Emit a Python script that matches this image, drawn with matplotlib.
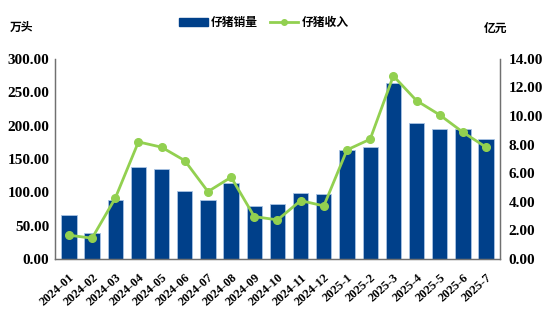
import matplotlib
matplotlib.use("Agg")
import matplotlib.pyplot as plt
from matplotlib.lines import Line2D
from matplotlib.patches import Patch

months = ["2024-01", "2024-02", "2024-03", "2024-04", "2024-05", "2024-06",
          "2024-07", "2024-08", "2024-09", "2024-10", "2024-11", "2024-12",
          "2025-1", "2025-2", "2025-3", "2025-4", "2025-5", "2025-6", "2025-7"]
piglet_sales = [66, 39.5, 88.5, 138.5, 135, 101.5, 88, 113.5, 79.5, 82,
                98.5, 97, 163.5, 167.5, 263.5, 203.5, 195.5, 195, 179.5]
piglet_revenue = [1.66, 1.45, 4.25, 8.19, 7.82, 6.88, 4.71, 5.72, 2.96, 2.73,
                  4.08, 3.71, 7.63, 8.38, 12.81, 11.08, 10.08, 8.87, 7.82]
left_ticks = [0, 50, 100, 150, 200, 250, 300]
right_ticks = [0, 2, 4, 6, 8, 10, 12, 14]

bar_color = "#00408A"
line_color = "#92D050"
num_font = "Liberation Serif"
cjk_font = ["Noto Sans CJK SC", "DejaVu Sans"]

fig = plt.figure(figsize=(5.5, 3.22), dpi=100)
ax = fig.add_axes([0.1, 0.196, 0.809, 0.621])
x = list(range(len(months)))
ax.bar(x, piglet_sales, width=0.66, color=bar_color, edgecolor="#A9C4E4",
       linewidth=0.6, zorder=2)
ax.set_ylim(0, 300)
ax.set_xlim(-0.6, len(months) - 0.4)
ax.set_yticks(left_ticks)
ax.set_yticklabels([f"{v:.2f}" for v in left_ticks], fontfamily=num_font,
                   fontweight="bold", fontsize=11)
ax.set_xticks(x)
ax.set_xticklabels(months, rotation=42, ha="right", rotation_mode="anchor",
                   fontfamily=num_font, fontweight="bold", fontsize=9)
ax.tick_params(axis="y", length=0, pad=4)
ax.tick_params(axis="x", length=0, pad=9)

ax2 = ax.twinx()
ax2.plot(x, piglet_revenue, color=line_color, linewidth=2, marker="o",
         markersize=5.5, zorder=3)
ax2.set_ylim(0, 14)
ax2.set_yticks(right_ticks)
ax2.set_yticklabels([f"{v:.2f}" for v in right_ticks], fontfamily=num_font,
                    fontweight="bold", fontsize=11)
ax2.tick_params(axis="y", length=0, pad=6)

for a in (ax, ax2):
    a.spines["top"].set_visible(False)
    for s in ("left", "right", "bottom"):
        a.spines[s].set_color("#707070")
        a.spines[s].set_linewidth(0.9)

fig.text(0.018, 0.915, "万头", fontfamily=cjk_font, fontweight="bold",
         fontsize=8.5, va="center", ha="left")
fig.text(0.88, 0.912, "亿元", fontfamily=cjk_font, fontweight="bold",
         fontsize=8.5, va="center", ha="left")

handles = [Patch(facecolor=bar_color, edgecolor=bar_color),
           Line2D([0], [0], color=line_color, linewidth=2, marker="o",
                  markersize=4)]
fig.legend(handles, ["仔猪销量", "仔猪收入"], loc="center",
           bbox_to_anchor=(0.48, 0.929), ncol=2, frameon=False,
           prop={"family": cjk_font, "weight": "bold", "size": 8.5},
           handlelength=2.4, handleheight=0.6, columnspacing=1.0,
           handletextpad=0.3)

fig.savefig("out.png", dpi=100)
